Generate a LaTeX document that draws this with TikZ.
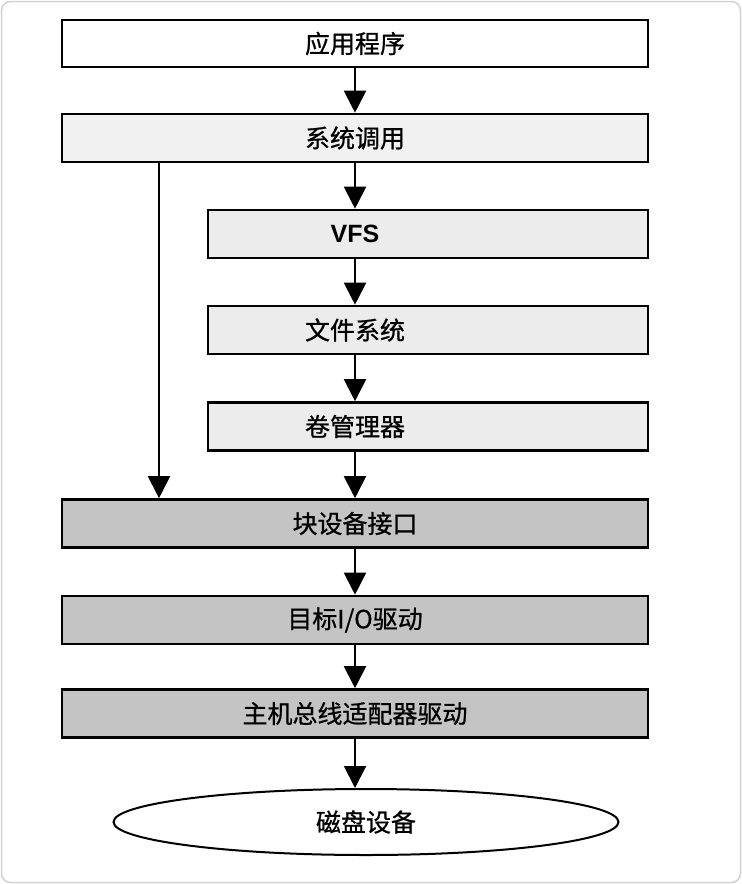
\documentclass[tikz,border=0pt]{standalone}
\usepackage{fontspec}
\setmainfont{Liberation Sans}
\newfontfamily\cjk[FakeBold=0.8]{Noto Sans CJK SC}
\usetikzlibrary{arrows.meta,shapes.geometric}
\definecolor{layerA}{HTML}{F1F1F1}
\definecolor{layerB}{HTML}{ECECEC}
\definecolor{layerC}{HTML}{C4C4C4}
\definecolor{frameC}{HTML}{D2D2D2}
\tikzset{
  layer/.style={draw=black, line width=2.6pt, rectangle, inner sep=0pt,
    minimum height=48pt, font=\cjk\fontsize{25}{30}\selectfont},
  wide/.style={layer, minimum width=586pt},
  narrow/.style={layer, minimum width=440pt},
  flow/.style={draw=black, line width=2pt,
    -{Triangle[width=22pt,length=22pt]}, shorten >=0pt},
}
\begin{document}
\begin{tikzpicture}[x=1pt,y=-1pt]
  \useasboundingbox (0,0) rectangle (742,884);
  % surrounding card
  \draw[frameC, line width=1.5pt, rounded corners=9pt] (1.5,1.5) rectangle (740.5,882.5);

  % layers of the I/O stack
  \node[wide, fill=white, minimum height=47pt] (app) at (355,43.5) {应用程序};
  \node[wide, fill=layerA] (sys) at (355,138) {系统调用};
  \node[narrow, fill=layerB,
        label={[xshift=-73pt, font=\bfseries\fontsize{25}{30}\selectfont]center:VFS}] (vfs) at (428,234) {};
  \node[narrow, fill=layerB,
        label={[xshift=-73pt, font=\cjk\fontsize{25}{30}\selectfont]center:文件系统}] (fs) at (428,330) {};
  \node[narrow, fill=layerB,
        label={[xshift=-73pt, font=\cjk\fontsize{25}{30}\selectfont]center:卷管理器}] (vm) at (428,426.5) {};
  \node[wide, fill=layerC] (blk) at (355,523.5) {块设备接口};
  \node[wide, fill=layerC] (tgt) at (355,620) {目标I/O驱动};
  \node[wide, fill=layerC] (hba) at (355,713.5) {主机总线适配器驱动};
  \node[draw=black, line width=2pt, ellipse, inner sep=0pt,
        minimum width=505pt, minimum height=66pt,
        font=\cjk\fontsize{25}{30}\selectfont] (disk) at (366,822) {磁盘设备};

  % connectors
  \coordinate (bypass) at (159,162);
  \draw[flow] (app.south) -- (sys.north);
  \draw[flow] (sys.south) -- (sys.south |- vfs.north);
  \draw[flow] (sys.south |- vfs.south) -- (sys.south |- fs.north);
  \draw[flow] (sys.south |- fs.south) -- (sys.south |- vm.north);
  \draw[flow] (sys.south |- vm.south) -- (blk.north);
  \draw[flow] (bypass) -- (bypass |- blk.north);
  \draw[flow] (blk.south) -- (tgt.north);
  \draw[flow] (tgt.south) -- (hba.north);
  \draw[flow] (hba.south) -- (hba.south |- disk.north);
\end{tikzpicture}
\end{document}
